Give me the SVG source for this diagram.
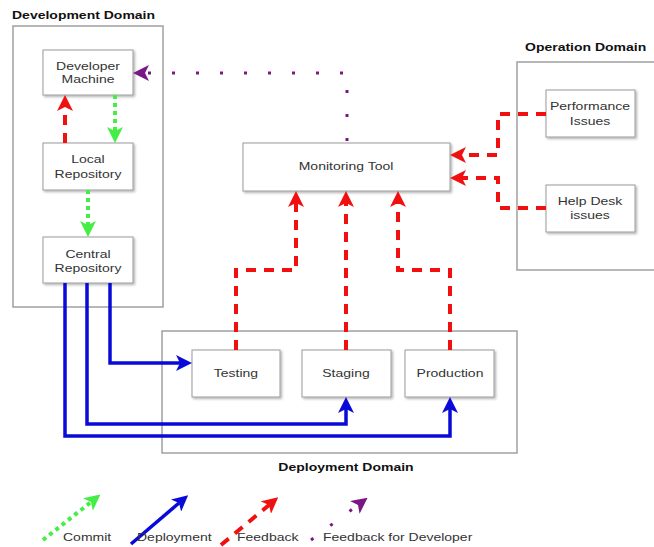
<svg xmlns="http://www.w3.org/2000/svg" width="654" height="547" viewBox="0 0 654 547">
<style>
.dom{fill:#fff;stroke:#a0a0a0;stroke-width:1.5}
.node{fill:#fff;stroke:#9a9a9a;stroke-width:1;filter:url(#sh)}
.t{font-family:"Liberation Sans",Arial,sans-serif;font-size:10px;fill:#333;text-anchor:middle}
.tl{font-family:"Liberation Sans",Arial,sans-serif;font-size:10px;fill:#333}
.tt{font-family:"Liberation Sans",Arial,sans-serif;font-size:10px;font-weight:bold;fill:#111}
.c{fill:none;stroke-linejoin:miter}
.red{stroke:#f01010;stroke-width:4;stroke-dasharray:10 8}
.grn{stroke:#44ee44;stroke-width:4;stroke-dasharray:4 4}
.blu{stroke:#0a0ad8;stroke-width:3.5}
.pur{stroke:#7b1785;stroke-width:3;stroke-dasharray:3 21}
</style>
<defs>
<filter id="sh" x="-10%" y="-10%" width="130%" height="130%">
<feDropShadow dx="1.5" dy="1.5" stdDeviation="1" flood-color="#000" flood-opacity="0.3"/>
</filter>
<marker id="aR" viewBox="0 0 16 16" refX="4" refY="8" markerWidth="16" markerHeight="16" markerUnits="userSpaceOnUse" orient="auto"><path d="M0,0 L16,8 L0,16 L4,8 Z" fill="#f01010"/></marker>
<marker id="aG" viewBox="0 0 16 16" refX="4" refY="8" markerWidth="16" markerHeight="16" markerUnits="userSpaceOnUse" orient="auto"><path d="M0,0 L16,8 L0,16 L4,8 Z" fill="#44ee44"/></marker>
<marker id="aB" viewBox="0 0 16 16" refX="4" refY="8" markerWidth="16" markerHeight="16" markerUnits="userSpaceOnUse" orient="auto"><path d="M0,0 L16,8 L0,16 L4,8 Z" fill="#0a0ad8"/></marker>
<marker id="aP" viewBox="0 0 16 16" refX="4" refY="8" markerWidth="16" markerHeight="16" markerUnits="userSpaceOnUse" orient="auto"><path d="M0,0 L16,8 L0,16 L4,8 Z" fill="#7b1785"/></marker>
</defs>
<rect width="654" height="547" fill="#fff"/>

<g id="dev-domain">
<rect class="dom" x="13" y="26" width="150" height="281"/>
<text class="tt" transform="translate(12,19) scale(1.4,1)">Development Domain</text>
</g>
<g id="op-domain">
<rect class="dom" x="517" y="62" width="140" height="208"/>
<text class="tt" transform="translate(525,51) scale(1.4,1)">Operation Domain</text>
</g>
<g id="deploy-domain">
<rect class="dom" x="162" y="331" width="355" height="122"/>
<text class="tt" transform="translate(346,471) scale(1.4,1)" text-anchor="middle">Deployment Domain</text>
</g>

<g id="developer-machine">
<rect class="node" x="43" y="50" width="90" height="45"/>
<text class="t" transform="translate(88,0) scale(1.4,1)"><tspan x="0" y="70">Developer</tspan><tspan x="0" y="83.5">Machine</tspan></text>
</g>
<g id="local-repository">
<rect class="node" x="43" y="143" width="90" height="47"/>
<text class="t" transform="translate(88,0) scale(1.4,1)"><tspan x="0" y="163.5">Local</tspan><tspan x="0" y="178">Repository</tspan></text>
</g>
<g id="central-repository">
<rect class="node" x="43" y="237" width="90" height="46"/>
<text class="t" transform="translate(88,0) scale(1.4,1)"><tspan x="0" y="258">Central</tspan><tspan x="0" y="272">Repository</tspan></text>
</g>
<g id="monitoring-tool">
<rect class="node" x="243" y="143" width="207" height="48"/>
<text class="t" transform="translate(346,0) scale(1.4,1)"><tspan x="0" y="170.5">Monitoring Tool</tspan></text>
</g>
<g id="performance-issues">
<rect class="node" x="546" y="90" width="89" height="47"/>
<text class="t" transform="translate(590,0) scale(1.4,1)"><tspan x="0" y="110.5">Performance</tspan><tspan x="0" y="125">Issues</tspan></text>
</g>
<g id="help-desk-issues">
<rect class="node" x="546" y="185" width="89" height="47"/>
<text class="t" transform="translate(590,0) scale(1.4,1)"><tspan x="0" y="205.5">Help Desk</tspan><tspan x="0" y="219">issues</tspan></text>
</g>
<g id="testing">
<rect class="node" x="192" y="350" width="88" height="47"/>
<text class="t" transform="translate(236,0) scale(1.4,1)"><tspan x="0" y="377.5">Testing</tspan></text>
</g>
<g id="staging">
<rect class="node" x="302" y="350" width="89" height="47"/>
<text class="t" transform="translate(346,0) scale(1.4,1)"><tspan x="0" y="377.5">Staging</tspan></text>
</g>
<g id="production">
<rect class="node" x="405" y="350" width="89" height="47"/>
<text class="t" transform="translate(450,0) scale(1.4,1)"><tspan x="0" y="377.5">Production</tspan></text>
</g>

<g id="connectors">
<path class="c red" d="M65,143 V107" marker-end="url(#aR)"/>
<path class="c grn" d="M115,95 V131" marker-end="url(#aG)"/>
<path class="c grn" d="M88,190 V225" marker-end="url(#aG)"/>
<path class="c pur" d="M347,141 V73 H145" marker-end="url(#aP)"/>
<path class="c red" d="M546,114 H498 V155 H462" marker-end="url(#aR)"/>
<path class="c red" d="M546,208 H498 V178 H462" marker-end="url(#aR)"/>
<path class="c red" d="M236,350 V270 H296 V203" marker-end="url(#aR)"/>
<path class="c red" d="M346,350 V203" marker-end="url(#aR)"/>
<path class="c red" d="M450,350 V270 H398 V203" marker-end="url(#aR)"/>
<path class="c blu" d="M110,283 V363 H180" marker-end="url(#aB)"/>
<path class="c blu" d="M87,283 V424 H346 V409" marker-end="url(#aB)"/>
<path class="c blu" d="M65,283 V436 H450 V409" marker-end="url(#aB)"/>
</g>

<g id="legend">
<path class="c grn" d="M43,540 L91,502" marker-end="url(#aG)"/>
<path class="c blu" d="M131,544 L179,503" marker-end="url(#aB)"/>
<path class="c red" d="M221,545 L269,505" marker-end="url(#aR)"/>
<path class="c pur" d="M311,540 L358,505" marker-end="url(#aP)"/>
<text class="tl" transform="translate(63,541) scale(1.4,1)">Commit</text>
<text class="tl" transform="translate(137,541) scale(1.4,1)">Deployment</text>
<text class="tl" transform="translate(237,541) scale(1.4,1)">Feedback</text>
<text class="tl" transform="translate(323,541) scale(1.4,1)">Feedback for Developer</text>
</g>
</svg>
